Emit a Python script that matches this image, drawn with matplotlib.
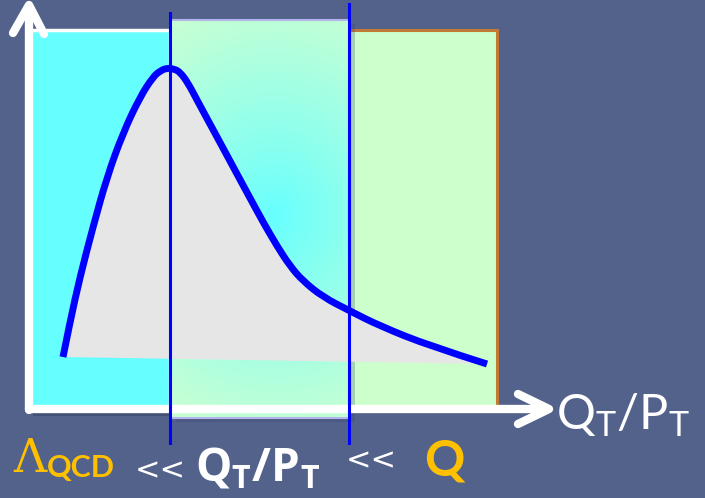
import numpy as np
import matplotlib.pyplot as plt
from matplotlib.patches import Rectangle, PathPatch
from matplotlib.path import Path

plt.rcParams['mathtext.fontset'] = 'custom'
plt.rcParams['mathtext.rm'] = 'Lato'
plt.rcParams['mathtext.bf'] = 'Open Sans:bold'

# canvas units: x to the right, y downward (same grid as the slide)
W, H = 705, 498
BG = '#53628B'
ORANGE = '#FFC000'

# cross-section curve, rising to the peak then the long Q_T tail
curve_x = [63, 70, 80, 93, 107, 123, 140, 153, 160, 167, 174, 180, 188, 197,
           210, 223, 237, 250, 263, 277, 290, 303, 323, 350, 380, 430, 487]
curve_y = [357, 322, 277, 227, 177, 133, 97, 77, 71, 68, 69, 72, 83, 100,
           124, 148, 174, 198, 222, 246, 266, 281, 297, 311, 326, 346, 364]

# region boundaries on the Q_T/P_T axis
x_axis, x_low, x_high, x_q = 29, 170, 349, 497


def smooth_path(xs, ys, close=False):
    # quadratic spline: read points act as control points, segment midpoints lie on the curve
    pts = list(zip(xs, ys))
    verts = [pts[0]]
    codes = [Path.MOVETO]
    for i in range(1, len(pts) - 1):
        mid = ((pts[i][0] + pts[i + 1][0]) / 2, (pts[i][1] + pts[i + 1][1]) / 2)
        if i == len(pts) - 2:
            mid = pts[i + 1]
        verts += [pts[i], mid]
        codes += [Path.CURVE3, Path.CURVE3]
    if close:
        verts.append(pts[0])
        codes.append(Path.CLOSEPOLY)
    return Path(verts, codes)


fig = plt.figure(figsize=(W / 100, H / 100), dpi=100)
fig.patch.set_facecolor(BG)
ax = fig.add_axes([0, 0, 1, 1])
ax.set_facecolor(BG)
ax.axis('off')

# drop shadows
ax.add_patch(Rectangle((x_axis + 4, 36), x_low - x_axis, 380,
                       facecolor='#3a4668', alpha=0.6, edgecolor='none', zorder=1))
ax.add_patch(Rectangle((x_low + 6, 24), x_high - x_low, 398,
                       facecolor='#3a4668', alpha=0.25, edgecolor='none', zorder=2.5))

# low-Q_T region
ax.add_patch(Rectangle((x_axis, 30), x_low - x_axis, 378,
                       facecolor='#66FFFF', edgecolor='white', linewidth=2.5, zorder=2))
# high-Q_T region
ax.add_patch(Rectangle((x_high, 30), x_q - x_high, 378,
                       facecolor='#CCFFCC', edgecolor='#C07A36', linewidth=2.2, zorder=2))

# matching region with a radial cyan glow
top, bot = 20, 418
yy, xx = np.mgrid[top:bot, x_low:x_high]
r = np.hypot(xx - 275, (yy - 215) * 0.9) / 210.0
t = np.clip(r, 0, 1) ** 0.9
c0 = np.array([0.40, 1.0, 1.0])
c1 = np.array([0.80, 1.0, 0.82])
img = c0[None, None, :] * (1 - t[..., None]) + c1[None, None, :] * t[..., None]
ax.imshow(img, extent=(x_low, x_high, bot, top), origin='upper',
          aspect='auto', zorder=3, interpolation='bilinear')
ax.add_patch(Rectangle((x_low, top), x_high - x_low, bot - top,
                       facecolor='none', edgecolor='#B4B4EC', linewidth=1.5, zorder=3.1))

# area under the curve and the curve itself
ax.add_patch(PathPatch(smooth_path(curve_x, curve_y, close=True),
                       facecolor='#E6E6E6', edgecolor='none', zorder=4))
ax.add_patch(PathPatch(smooth_path(curve_x, curve_y), facecolor='none',
                       edgecolor='#0000FF', linewidth=5, capstyle='butt',
                       joinstyle='round', zorder=6))

# boundaries of the matching region
ax.plot([x_low, x_low], [13, 443], color='#0000FF', linewidth=2.2, zorder=7)
ax.plot([x_high, x_high], [4, 443], color='#0000FF', linewidth=2.2, zorder=7)

# axes with open arrowheads
axis_kw = dict(color='white', linewidth=6, solid_capstyle='round',
               solid_joinstyle='round', zorder=5)
ax.plot([x_axis, x_axis], [410, 6], **axis_kw)
ax.plot([13, 29, 44], [33, 5, 34], **axis_kw)
ax.plot([x_axis, 548], [409, 409], **axis_kw)
ax.plot([518, 549, 518], [394, 409, 424], **axis_kw)

# labels
ax.text(556, 429, r'$\mathrm{Q_T/P_T}$', color='white', fontsize=35,
        ha='left', va='baseline', zorder=8)
ax.text(13, 472, 'Λ', color=ORANGE, fontsize=33, family='DejaVu Serif',
        ha='left', va='baseline', zorder=8)
ax.text(47, 477, 'QCD', color=ORANGE, fontsize=22, family='Lato',
        fontweight='bold', ha='left', va='baseline', zorder=8)
ax.text(135, 479, '<<', color='white', fontsize=22, family='DejaVu Sans',
        ha='left', va='baseline', zorder=8)
ax.text(195, 481, r'$\mathbf{Q_T/P_T}$', color='white', fontsize=33,
        ha='left', va='baseline', zorder=8)
ax.text(346, 469, '<<', color='white', fontsize=22, family='DejaVu Sans',
        ha='left', va='baseline', zorder=8)
ax.text(424, 475, 'Q', color=ORANGE, fontsize=36, family='Lato',
        fontweight='bold', ha='left', va='baseline', zorder=8)

ax.set_xlim(0, W)
ax.set_ylim(H, 0)

fig.savefig('out.png', dpi=100, facecolor=BG)
